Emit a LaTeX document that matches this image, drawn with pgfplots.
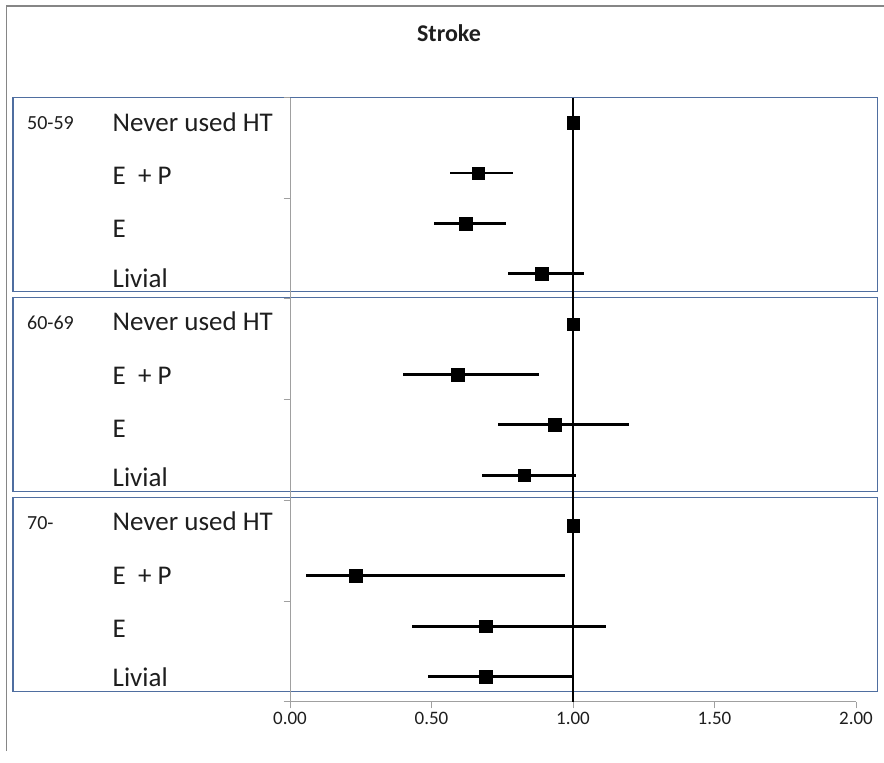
\documentclass[border=0pt]{standalone}
\usepackage{pgfplots}
\pgfplotsset{compat=1.18}
\usepackage{pgfplotstable}
\usepackage{fontspec}
\setmainfont{Carlito}
\definecolor{boxblue}{RGB}{79,110,160}
\definecolor{framegray}{RGB}{134,134,134}
\definecolor{axgray}{RGB}{160,160,160}
\definecolor{txt}{RGB}{30,30,30}

% group 50-59
\pgfplotstableread{
row or lo hi
1 1.000 1.000 1.000
2 0.665 0.566 0.787
3 0.620 0.509 0.763
4 0.890 0.769 1.038
}\groupA
% group 60-69
\pgfplotstableread{
row or lo hi
5 1.000 1.000 1.000
6 0.592 0.400 0.881
7 0.936 0.734 1.199
8 0.828 0.680 1.011
}\groupB
% group 70-
\pgfplotstableread{
row or lo hi
9 1.000 1.000 1.000
10 0.233 0.057 0.970
11 0.691 0.432 1.117
12 0.691 0.489 0.997
}\groupC

\pgfplotsset{
  forest/.style={only marks, mark=square*, mark size=6.3pt, black,
    mark options={fill=black, draw=black, line width=0.3pt},
    error bars/.cd, x dir=both, x explicit, error mark=none,
    error bar style={line width=2.9pt, black}},
}

\newcommand{\catfont}{\fontsize{27}{31}\selectfont\color{txt}}
\newcommand{\agefont}{\fontsize{20}{23}\selectfont\color{txt}}

\begin{document}
\begin{tikzpicture}
\path[use as bounding box] (0pt,0pt) rectangle (884pt,-763pt);
% outer chart frame
\draw[framegray, line width=1.1pt] (6.5pt,-751pt) -- (6.5pt,-6pt) -- (884pt,-6pt);
% title
\node[anchor=base, inner sep=0pt] at (449pt,-41pt) {\fontsize{24}{28}\selectfont\bfseries\color{txt}Stroke};
% group boxes
\draw[boxblue, line width=1.3pt] (13pt,-97.5pt) rectangle (877.5pt,-291.5pt);
\draw[boxblue, line width=1.3pt] (13pt,-297.3pt) rectangle (877.5pt,-491.5pt);
\draw[boxblue, line width=1.3pt] (13pt,-497.3pt) rectangle (877.5pt,-691.8pt);
% labels
\foreach \top/\age in {97.5/50-59, 297.3/60-69, 497.3/70-}{
  \node[anchor=base west, inner sep=0pt] at (27pt,-\top pt-32pt) {\agefont\age};
  \node[anchor=base west, inner sep=0pt] at (112.5pt,-\top pt-33.5pt) {\catfont Never used HT};
  \node[anchor=base west, inner sep=0pt] at (112.5pt,-\top pt-87pt) {\catfont E\ \ + P};
  \node[anchor=base west, inner sep=0pt] at (112.5pt,-\top pt-140pt) {\catfont E};
  \node[anchor=base west, inner sep=0pt] at (112.5pt,-\top pt-189.5pt) {\catfont Livial};
}
\begin{axis}[
  at={(290pt,-701.8pt)}, anchor=south west,
  scale only axis, width=566pt, height=604.3pt,
  xmin=0, xmax=2, ymin=0.5, ymax=12.5, y dir=reverse,
  axis x line*=bottom, axis y line*=left,
  axis line style={axgray, line width=1.0pt, -},
  xtick={0,0.5,1,1.5,2},
  ytick={0.5,2.5,4.5,6.5,8.5,10.5,12.5}, yticklabels={},
  tick align=outside, major tick length=6.5pt,
  tick style={axgray, line width=1.0pt},
  xticklabel style={font=\fontsize{19}{21}\selectfont, text=txt},
  /pgf/number format/.cd, fixed, fixed zerofill, precision=2, assume math mode=true,
  /pgfplots/.cd,
  clip=false,
]
\addplot[black, line width=2.8pt] coordinates {(1,0.5) (1,12.5)};
\addplot[forest] table[x=or, y=row, x error plus expr=\thisrow{hi}-\thisrow{or}, x error minus expr=\thisrow{or}-\thisrow{lo}] {\groupA};
\addplot[forest] table[x=or, y=row, x error plus expr=\thisrow{hi}-\thisrow{or}, x error minus expr=\thisrow{or}-\thisrow{lo}] {\groupB};
\addplot[forest] table[x=or, y=row, x error plus expr=\thisrow{hi}-\thisrow{or}, x error minus expr=\thisrow{or}-\thisrow{lo}] {\groupC};
\end{axis}
\end{tikzpicture}
\end{document}
